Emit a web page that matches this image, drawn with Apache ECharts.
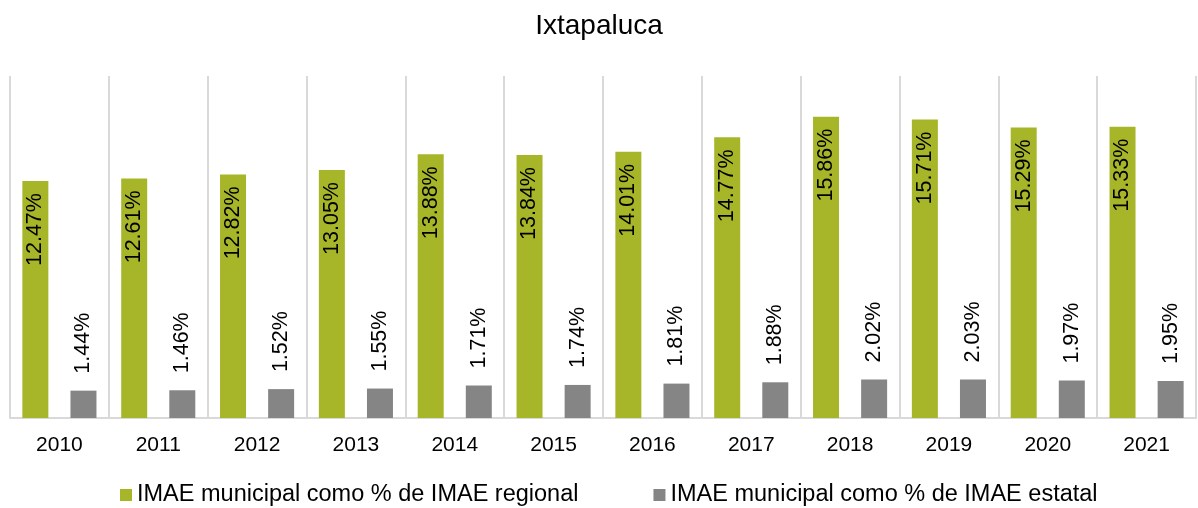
<!DOCTYPE html>
<html>
<head>
<meta charset="utf-8">
<script src="https://cdn.jsdelivr.net/npm/echarts@6/dist/echarts.min.js"></script>
<style>
  html, body { margin: 0; padding: 0; background: #fff; }
  #chart { width: 1198px; height: 508px; }
</style>
</head>
<body>
<div id="chart"></div>
<script>
const years = ['2010', '2011', '2012', '2013', '2014', '2015', '2016', '2017', '2018', '2019', '2020', '2021']
const regional = [12.47, 12.61, 12.82, 13.05, 13.88, 13.84, 14.01, 14.77, 15.86, 15.71, 15.29, 15.33]
const estatal = [1.44, 1.46, 1.52, 1.55, 1.71, 1.74, 1.81, 1.88, 2.02, 2.03, 1.97, 1.95]

const font = 'Liberation Sans, Arial, sans-serif'
const pct = p => `${p.value.toFixed(2)}%`

const chart = echarts.init(document.getElementById('chart'))
chart.setOption({
  animation: false,
  title: {
    text: 'Ixtapaluca',
    left: 'center',
    top: 7,
    textStyle: { fontFamily: font, fontSize: 28, fontWeight: 'normal', color: '#000' },
  },
  legend: {
    top: 478,
    left: 115,
    icon: 'rect',
    itemWidth: 12,
    itemHeight: 12,
    itemGap: 75,
    textStyle: { fontFamily: font, fontSize: 23.5, color: '#000' },
  },
  grid: { left: 10, right: 2, top: 76, bottom: 90 },
  xAxis: {
    type: 'category',
    data: years,
    axisLine: { lineStyle: { color: '#d9d9d9', width: 2 } },
    axisTick: { show: false },
    splitLine: { show: true, lineStyle: { color: '#d9d9d9', width: 2 } },
    axisLabel: { fontFamily: font, fontSize: 21, color: '#000', margin: 17 },
  },
  yAxis: {
    type: 'value',
    min: 0,
    max: 18,
    show: false,
    splitLine: { show: false },
  },
  series: [
    {
      name: 'IMAE municipal como % de IMAE regional',
      type: 'bar',
      data: regional,
      barWidth: 26,
      barGap: '85%',
      itemStyle: { color: '#a7b628' },
      label: {
        show: true,
        position: 'insideTop',
        rotate: 90,
        align: 'right',
        verticalAlign: 'middle',
        distance: 12,
        formatter: pct,
        fontFamily: font,
        fontSize: 21.5,
        color: '#000',
      },
    },
    {
      name: 'IMAE municipal como % de IMAE estatal',
      type: 'bar',
      data: estatal,
      barWidth: 26,
      itemStyle: { color: '#858585' },
      label: {
        show: true,
        position: 'top',
        rotate: 90,
        align: 'left',
        verticalAlign: 'middle',
        distance: 17,
        formatter: pct,
        fontFamily: font,
        fontSize: 21.5,
        color: '#000',
      },
    },
  ],
})
</script>
</body>
</html>
